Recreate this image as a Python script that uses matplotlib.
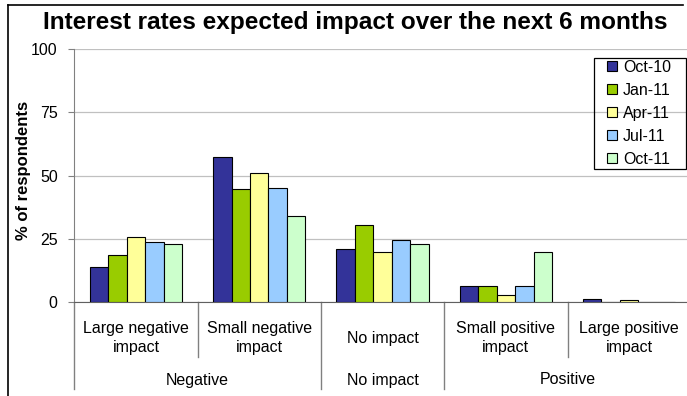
import matplotlib
matplotlib.use('Agg')
import matplotlib.pyplot as plt
import matplotlib.transforms as mtransforms
from matplotlib.lines import Line2D
from matplotlib.patches import Rectangle
import numpy as np

plt.rcParams['font.family'] = ['Liberation Sans', 'DejaVu Sans']

# Survey data: share of respondents per expected impact, by survey wave
impacts = ['Large negative\nimpact', 'Small negative\nimpact', 'No impact',
           'Small positive\nimpact', 'Large positive\nimpact']
impact_groups = ['Negative', 'No impact', 'Positive']
group_spans = [(0, 2), (2, 3), (3, 5)]
waves = ['Oct-10', 'Jan-11', 'Apr-11', 'Jul-11', 'Oct-11']

oct10 = [14, 57.5, 21, 6.3, 1.2]
jan11 = [18.5, 44.5, 30.4, 6.3, 0]
apr11 = [25.8, 51, 19.8, 2.6, 0.6]
jul11 = [23.8, 45, 24.7, 6.3, 0]
oct11 = [23, 34, 23, 19.8, 0]

colors = ['#333399', '#99CC00', '#FFFF99', '#99CCFF', '#CCFFCC']

W, H = 687, 396
fig = plt.figure(figsize=(W / 100, H / 100), dpi=100)
ax = fig.add_axes([74.3 / W, 1 - 302 / H, 616.5 / W, 253 / H])

x = np.arange(len(impacts)) + 0.5
bw = 0.15
for j, (vals, c, lab) in enumerate(zip([oct10, jan11, apr11, jul11, oct11], colors, waves)):
    ax.bar(x + (j - 2) * bw, vals, width=bw, color=c, edgecolor='black',
           linewidth=0.8, label=lab, zorder=3)

ax.set_xlim(0, 5)
ax.set_ylim(0, 100)
ax.set_yticks([0, 25, 50, 75, 100])
ax.tick_params(axis='y', length=4, color='#808080', labelsize=11.5, pad=8)
ax.set_xticks([])
ax.grid(axis='y', color='#C0C0C0', linewidth=0.9, zorder=0)
for s in ['top', 'right']:
    ax.spines[s].set_visible(False)
ax.spines['left'].set_color('#808080')
ax.spines['bottom'].set_color('#606060')
ax.set_ylabel('% of respondents', fontsize=12, fontweight='bold')
ax.yaxis.set_label_coords((31 - 74.3) / 616.5, (302 - 170) / 253)

# two-level category axis drawn under the plot
trans = mtransforms.blended_transform_factory(ax.transData, fig.transFigure)
def fy(px):
    return 1 - px / H

for i, lab in enumerate(impacts):
    ax.text(i + 0.5, fy(338), lab, transform=trans, ha='center', va='center',
            fontsize=11.5, linespacing=1.4)
for lab, (a, b) in zip(impact_groups, group_spans):
    ax.text((a + b) / 2, fy(380), lab, transform=trans, ha='center', va='center',
            fontsize=11.5)

for xs in range(6):
    bottom = 389 if xs in (0, 2, 3, 5) else 357
    ax.add_line(Line2D([xs, xs], [fy(302), fy(bottom)], transform=trans,
                       color='#808080', linewidth=1, clip_on=False))

# legend with a plain box around it
leg = ax.legend(loc='upper left', bbox_to_anchor=(607 / W, fy(60)),
                bbox_transform=fig.transFigure, fontsize=11.5, frameon=False,
                handlelength=0.6, handleheight=0.6, handletextpad=0.4,
                labelspacing=0.5, borderpad=0, borderaxespad=0)
fig.add_artist(Rectangle((594 / W, fy(169)), 92 / W, 111 / H, transform=fig.transFigure,
                         facecolor='none', edgecolor='black', linewidth=0.9))

fig.text(355.5 / W, fy(22), 'Interest rates expected impact over the next 6 months',
         ha='center', va='center', fontsize=17.6, fontweight='bold')

# chart frame, left and top edges
fig.add_artist(Line2D([7.5 / W, 7.5 / W], [0, fy(5)], transform=fig.transFigure,
                      color='black', linewidth=1.2))
fig.add_artist(Line2D([7.5 / W, 683 / W], [fy(5), fy(5)], transform=fig.transFigure,
                      color='black', linewidth=1.2))

fig.savefig('out.png', dpi=100)
